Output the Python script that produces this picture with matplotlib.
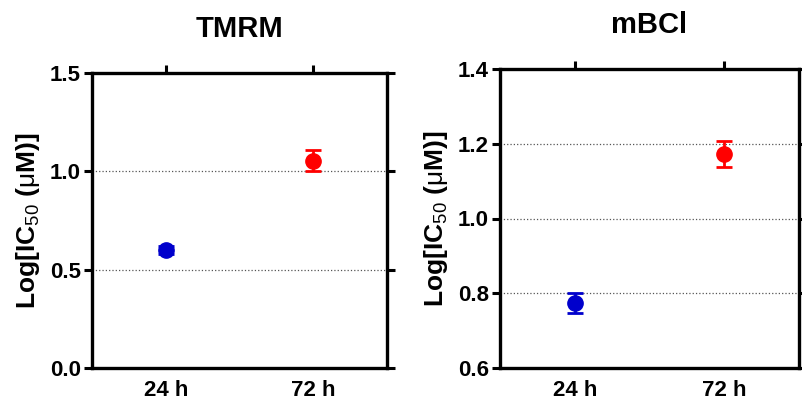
import matplotlib
matplotlib.use("Agg")
import matplotlib.pyplot as plt

plt.rcParams['font.family'] = ['Liberation Sans', 'DejaVu Sans']
plt.rcParams['mathtext.fontset'] = 'custom'
plt.rcParams['mathtext.rm'] = 'Liberation Sans'
plt.rcParams['mathtext.it'] = 'Liberation Sans'

# data
times = ['24 h', '72 h']
colors = ['#0000cc', '#ff0000']

tmrm_mean = [0.600, 1.055]
tmrm_err = [0.018, 0.055]

mbcl_mean = [0.773, 1.173]
mbcl_err = [0.027, 0.035]

panels = [
    ('TMRM', tmrm_mean, tmrm_err, (0.0, 1.5), [0.0, 0.5, 1.0, 1.5], '{:.1f}'),
    ('mBCl', mbcl_mean, mbcl_err, (0.6, 1.4), [0.6, 0.8, 1.0, 1.2, 1.4], '{:.1f}'),
]

W, H = 803, 403
fig = plt.figure(figsize=(W / 100, H / 100), dpi=100)
rects = [
    [92 / W, 35 / H, 295 / W, 295 / H],
    [500 / W, 35 / H, 299 / W, 299 / H],
]

for rect, (title, mean, err, ylim, yticks, fmt) in zip(rects, panels):
    ax = fig.add_axes(rect)
    for i in range(len(times)):
        ax.errorbar(i, mean[i], yerr=err[i], fmt='o', color=colors[i],
                    markersize=11, elinewidth=2, capsize=6, capthick=2, zorder=3)
    ax.set_xlim(-0.5, 1.5)
    ax.set_ylim(*ylim)
    ax.set_yticks(yticks)
    ax.set_yticklabels([fmt.format(v) for v in yticks])
    ax.set_xticks(range(len(times)))
    ax.set_xticklabels(times)
    for lab in ax.get_xticklabels() + ax.get_yticklabels():
        lab.set_fontweight('bold')
        lab.set_fontsize(16)
    ax.tick_params(axis='x', bottom=False, top=True, labelbottom=True,
                   direction='out', length=6, width=2.2, pad=3)
    ax.tick_params(axis='y', left=True, right=True, direction='out',
                   length=6, width=2.2, pad=2)
    for s in ax.spines.values():
        s.set_linewidth(2.4)
    # dotted lines at the inner ticks only
    for v in yticks[1:-1]:
        ax.axhline(v, color='#555555', linestyle=':', linewidth=0.9, zorder=1)
    ax.set_ylabel(r'Log[IC$_{50}$ ($\mu$M)]', fontsize=19, fontweight='bold',
                  labelpad=6)
    ax.set_title(title, fontsize=21, fontweight='bold', pad=26)

fig.savefig('out.png', dpi=100)
